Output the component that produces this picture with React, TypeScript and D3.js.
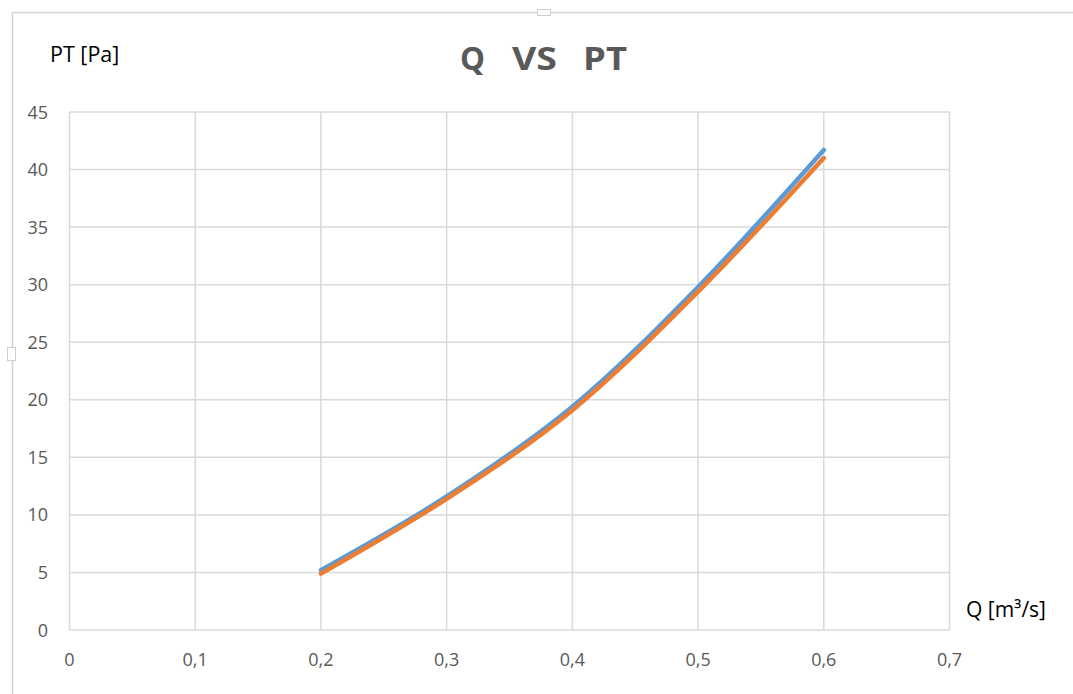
import React from "react";
import * as d3 from "d3";

const qValues = [0.2, 0.3, 0.4, 0.5, 0.6];
const seriesBlue = [5.2, 11.6, 19.4, 29.8, 41.7];
const seriesOrange = [4.9, 11.4, 19.1, 29.4, 41.0];
const xTicks = [0, 0.1, 0.2, 0.3, 0.4, 0.5, 0.6, 0.7];
const yTicks = [0, 5, 10, 15, 20, 25, 30, 35, 40, 45];
const titleWords = ["Q", "VS", "PT"];

const W = 1073;
const H = 694;
const font = "'Open Sans', 'Liberation Sans', sans-serif";
const textColor = "#595959";
const gridColor = "#d9d9d9";

export default function App() {
  const x = d3.scaleLinear().domain([0, 0.7]).range([69.5, 949.5]);
  const y = d3.scaleLinear().domain([0, 45]).range([630, 112]);
  const line = d3
    .line<number>()
    .x((_, i) => x(qValues[i]))
    .y((d) => y(d))
    .curve(d3.curveCatmullRom.alpha(0.5));

  const titleX = [460, 512, 583];
  const titleW = [25, 45, 44];

  return (
    <svg
      width={W}
      height={H}
      style={{ position: "absolute", left: 0, top: 0, background: "#fff" }}
    >
      {/* chart frame */}
      <path d={`M12.5,${H} L12.5,12.5 L${W},12.5`} fill="none" stroke="#d4d4d4" strokeWidth={1.5} />
      <rect x={537.5} y={9.5} width={13} height={6} fill="#fff" stroke="#cfcfcf" strokeWidth={1} />
      <rect x={7.5} y={347.5} width={8} height={13} fill="#fff" stroke="#cfcfcf" strokeWidth={1} />

      {/* grid */}
      {yTicks.map((t) => (
        <line
          key={"gy" + t}
          x1={x(0)}
          x2={x(0.7)}
          y1={y(t)}
          y2={y(t)}
          stroke={gridColor}
          strokeWidth={1.5}
        />
      ))}
      {xTicks.map((t) => (
        <line
          key={"gx" + t}
          x1={x(t)}
          x2={x(t)}
          y1={y(0)}
          y2={y(45)}
          stroke={gridColor}
          strokeWidth={1.5}
        />
      ))}

      {/* y tick labels */}
      {yTicks.map((t) => (
        <text
          key={"ty" + t}
          x={48}
          y={y(t) + 6.5}
          textAnchor="end"
          fontFamily={font}
          fontSize={18}
          fill={textColor}
        >
          {t}
        </text>
      ))}
      {/* x tick labels */}
      {xTicks.map((t) => (
        <text
          key={"tx" + t}
          x={x(t)}
          y={666}
          textAnchor="middle"
          fontFamily={font}
          fontSize={18}
          fill={textColor}
        >
          {t === 0 ? "0" : t.toFixed(1).replace(".", ",")}
        </text>
      ))}

      {/* series */}
      <path d={line(seriesBlue) || ""} fill="none" stroke="#5B9BD5" strokeWidth={4.5} strokeLinecap="round" />
      <path d={line(seriesOrange) || ""} fill="none" stroke="#ED7D31" strokeWidth={4.5} strokeLinecap="round" />

      {/* title and axis titles */}
      {titleWords.map((w, i) => (
        <text
          key={"t" + w}
          x={titleX[i]}
          y={70}
          fontFamily={font}
          fontSize={32}
          fontWeight="bold"
          fill={textColor}
          textLength={titleW[i]}
          lengthAdjust="spacingAndGlyphs"
        >
          {w}
        </text>
      ))}
      <text x={50} y={62} fontFamily={font} fontSize={21.5} fill="#000">
        PT [Pa]
      </text>
      <text x={966} y={617} fontFamily={font} fontSize={21} fill="#000">
        Q [m³/s]
      </text>
    </svg>
  );
}
